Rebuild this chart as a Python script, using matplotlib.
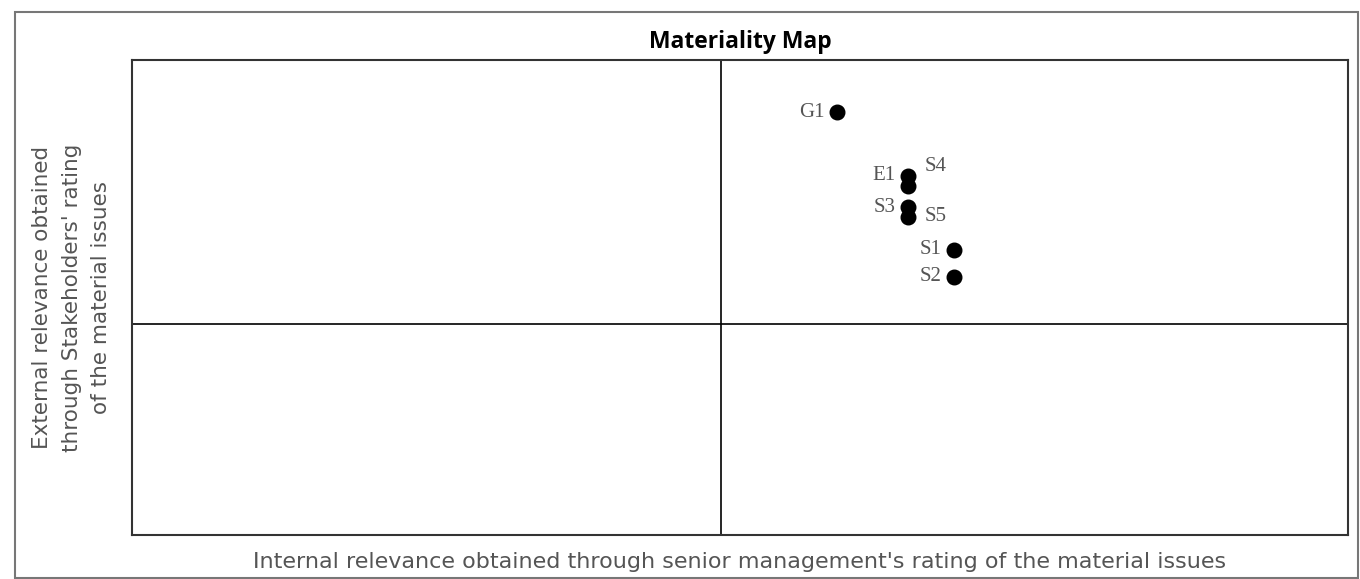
import matplotlib.pyplot as plt
from matplotlib.patches import Rectangle

# materiality issues (internal relevance, external relevance)
labels = ["G1", "E1", "S4", "S3", "S5", "S1", "S2"]
internal = [2.90, 3.19, 3.19, 3.19, 3.19, 3.38, 3.38]
external = [4.45, 3.78, 3.67, 3.45, 3.35, 3.00, 2.72]
# label placement relative to the point
label_side = ["left", "left", "upright", "left", "right", "left", "left"]

x_split = 2.42
y_split = 2.22

fig = plt.figure(figsize=(13.6, 5.79), dpi=100)
ax = fig.add_axes([132 / 1360, 1 - 535 / 579, 1216 / 1360, 475 / 579])

ax.scatter(internal, external, s=110, color="black", zorder=3)
offsets = {"left": (-9, 0), "upright": (12, 14), "right": (12, 0)}
for lab, x, y, side in zip(labels, internal, external, label_side):
    ax.annotate(lab, (x, y), xytext=offsets[side], textcoords="offset points",
                ha="right" if side == "left" else "left", va="center",
                fontsize=15, color="#555555", family="Liberation Serif")

ax.axvline(x_split, color="black", lw=1.2)
ax.axhline(y_split, color="black", lw=1.2)
ax.set_xlim(0, 5)
ax.set_ylim(0, 5)
ax.set_xticks([])
ax.set_yticks([])
for sp in ax.spines.values():
    sp.set_color("#333333")
    sp.set_linewidth(1.5)

ax.set_title("Materiality Map", fontsize=16.5, fontweight="bold", pad=9,
             family="Open Sans")
ax.set_xlabel("Internal relevance obtained through senior management's rating of the material issues",
              fontsize=16, color="#555555", labelpad=12)
ax.set_ylabel("External relevance obtained\nthrough Stakeholders' rating\nof the material issues",
              fontsize=15.5, color="#555555", labelpad=15, linespacing=1.6)

# outer frame around the whole chart
fig.patches.append(Rectangle((15 / 1360, 1 - 578 / 579), 1343 / 1360, 566 / 579,
                             transform=fig.transFigure, fill=False,
                             edgecolor="#777777", lw=1.5))

fig.savefig("out.png", dpi=100)
